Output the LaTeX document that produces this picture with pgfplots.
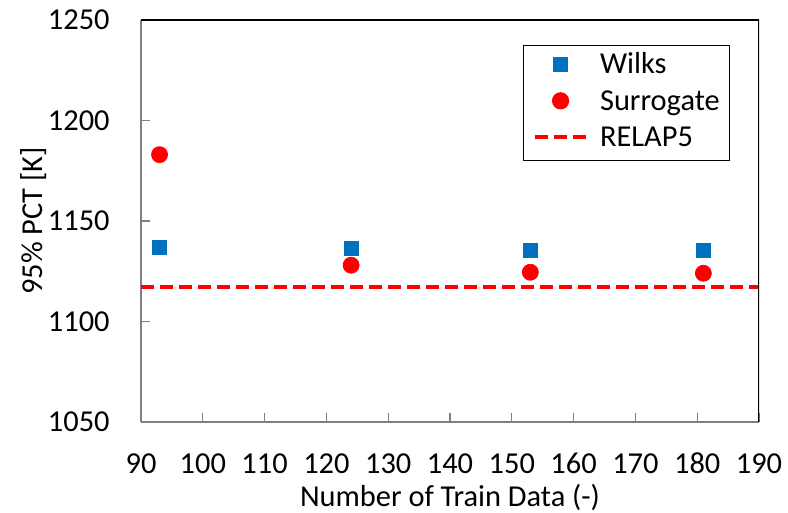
\documentclass[border=0pt]{standalone}
\usepackage{pgfplots}
\pgfplotsset{compat=1.18}
\usepackage{fontspec}
\setmainfont{Carlito}
\definecolor{wblue}{HTML}{0070C0}
\definecolor{sred}{HTML}{FF0000}
\definecolor{axgray}{HTML}{808080}
\pgfplotsset{
  markleg/.style={legend image code/.code={\draw[##1] plot coordinates {(12.75bp,1bp)};}},
  lineleg/.style={legend image code/.code={\draw[##1] (0bp,1bp) -- (25.5bp,1bp);}},
}
\begin{document}
\fontsize{15.2bp}{18bp}\selectfont
\begin{tikzpicture}
\useasboundingbox (0,0) rectangle (394bp,256.5bp);
\begin{axis}[
  at={(70.5bp,45.5bp)}, anchor=south west,
  scale only axis, width=309bp, height=201bp,
  xmin=90, xmax=190, ymin=1050, ymax=1250,
  xtick={90,100,...,190}, ytick={1050,1100,...,1250},
  axis x line*=bottom, axis y line*=left,
  axis line style={draw=axgray, line width=0.6bp},
  tick style={draw=axgray, line width=0.6bp},
  tick align=inside, major tick length=4.5bp,
  /pgf/number format/assume math mode=true,
  /pgf/number format/1000 sep={},
  xticklabel style={anchor=base, inner sep=0pt, yshift=-25.5bp},
  yticklabel style={anchor=east, inner sep=0pt, xshift=-15.5bp},
  xlabel={Number of Train Data (-)},
  ylabel={95\% PCT [K]},
  every axis x label/.style={at={(axis description cs:0.5,-0.2104)}, anchor=base},
  every axis y label/.style={at={(axis description cs:-0.1586,0.5)}, rotate=90, anchor=base},
  legend style={at={(rel axis cs:0.953,0.939)}, anchor=north east,
    draw=black, line width=0.6bp, inner xsep=4.8bp, inner ysep=3.4bp,
    row sep=3.7bp, column sep=6bp,
    nodes={inner sep=0pt, text height=11bp, text depth=3.5bp}},
  legend cell align=left,
]
\addplot[only marks, mark=square*, mark size=3.5bp, color=wblue, markleg]
  coordinates {(93,1137) (124,1136.5) (153,1135.5) (181,1135.5)};
\addlegendentry{Wilks}
\addplot[only marks, mark=*, mark size=4bp, color=sred, markleg]
  coordinates {(93,1183) (124,1128) (153,1124.5) (181,1124)};
\addlegendentry{Surrogate}
\addplot[sred, line width=2bp, dash pattern=on 6.5bp off 3bp, lineleg]
  coordinates {(90,1117) (190,1117)};
\addlegendentry{RELAP5}
\draw[black, line width=0.6bp] (rel axis cs:0,1) -- (rel axis cs:1,1) -- (rel axis cs:1,0);
\end{axis}
\end{tikzpicture}
\end{document}
